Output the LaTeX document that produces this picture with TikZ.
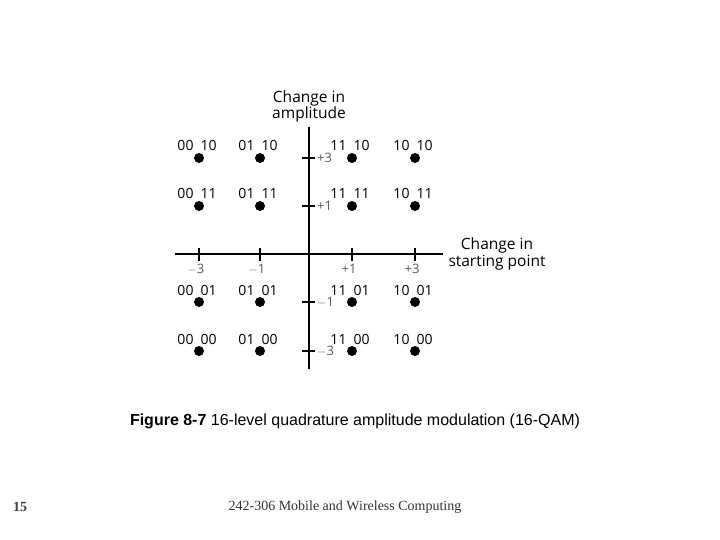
\documentclass[tikz,border=0pt]{standalone}
\usepackage{fontspec}
\setmainfont{Liberation Serif}
\newfontfamily\labelfont{Open Sans}
\newfontfamily\capfont{Liberation Sans}
\tikzset{
  dot/.style={circle,fill=black,inner sep=0pt,minimum size=10pt},
  code/.style={font=\labelfont\fontsize{14}{16}\selectfont,inner sep=1pt,anchor=base},
  ticklabel/.style={font=\labelfont\fontsize{13}{15}\selectfont,text=black!65,inner sep=1pt},
  axistitle/.style={font=\labelfont\fontsize{15.5}{16}\selectfont,align=center},
  axis/.style={line width=1.6pt},
}
\begin{document}
\begin{tikzpicture}[x=1pt,y=-1pt]
      \useasboundingbox (0,0) rectangle (720,540);

      % axes
      \coordinate (L) at (175,254);
      \coordinate (R) at (443,254);
      \coordinate (T) at (309,127);
      \coordinate (B) at (309,369);
      \draw[axis] (L) -- (R);
      \draw[axis] (T) -- (B);

      \node[axistitle] (ylab) at (309,106){Change in\\amplitude};
      \node[axistitle,font=\labelfont\fontsize{15.5}{17}\selectfont] (xlab) at (497,254){Change in\\starting point};

      % ticks
      \foreach \x/\t in {199/{$-$3},260/{$-$1},352/{+1},415/{+3}}{
        \draw[line width=1.2pt] (\x,248) -- (\x,261);
        \node[ticklabel] at (\x-3,269){\t};
      }
      \foreach \y/\t in {158/{+3},206/{+1},302/{$-$1},351/{$-$3}}{
        \draw[line width=1.2pt] (302,\y) -- (315,\y);
        \node[ticklabel,anchor=west] at (316,\y){\t};
      }

      % constellation points
      \foreach \x/\a in {199/00,260/01,352/11,415/10}{
        \foreach \y/\b in {158/10,206/11,302/01,351/00}{
          \node[dot] (p\a\b) at (\x,\y){};
          \node[code] at (\x-2,\y-7){\a\hspace{7pt}\b};
        }
      }

      \node[font=\capfont\fontsize{16}{18}\selectfont] (cap) at (355,421){\textbf{Figure 8-7} 16-level quadrature amplitude modulation (16-QAM)};
      \node[font=\bfseries\fontsize{14}{16}\selectfont,text=black!75] (page) at (20,507){15};
      \node[font=\fontsize{14}{16}\selectfont,text=black!80] (foot) at (345,507){242-306 Mobile and Wireless Computing};
    \end{tikzpicture}
\end{document}
